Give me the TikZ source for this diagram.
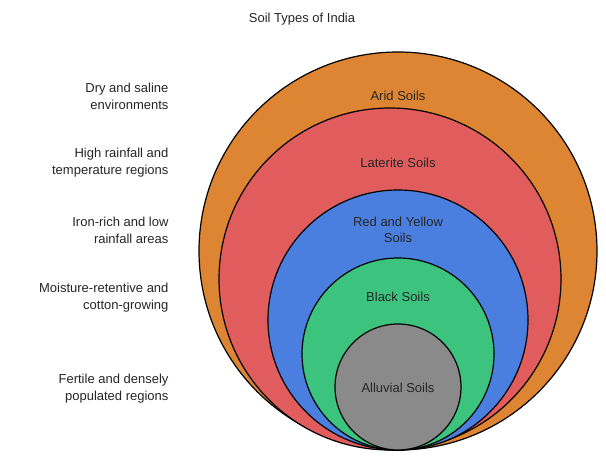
\documentclass[tikz,border=0pt]{standalone}
\usepackage{fontspec}
\setmainfont{Liberation Sans}
\definecolor{corange}{HTML}{DD8533}
\definecolor{cred}{HTML}{E15D5D}
\definecolor{cblue}{HTML}{4A7FE0}
\definecolor{cgreen}{HTML}{3CC47F}
\definecolor{cgray}{HTML}{8A8A8A}
\begin{document}
\begin{tikzpicture}[x=1pt,y=-1pt,
  ring/.style={draw=black,line width=1.2pt},
  lbl/.style={font=\fontsize{13}{16}\selectfont,align=center,text=black!85},
  side/.style={font=\fontsize{13}{17}\selectfont,align=right,anchor=east,text=black!85}]
\useasboundingbox (0,0) rectangle (606,462);
\fill[white] (0,0) rectangle (606,462);
\draw[ring,fill=corange] (398,251) circle (199);
\draw[ring,fill=cred] (390,279) circle (171);
\draw[ring,fill=cblue] (398,320) circle (130);
\draw[ring,fill=cgreen] (398,354) circle (96);
\draw[ring,fill=cgray] (398,387) circle (63);
\node[lbl] (t) at (302,19) {Soil Types of India};
\node[lbl] (a) at (398,96) {Arid Soils};
\node[lbl] (l) at (398,163) {Laterite Soils};
\node[lbl] (r) at (398,230) {Red and Yellow\\Soils};
\node[lbl] (b) at (398,297) {Black Soils};
\node[lbl] (al) at (398,388) {Alluvial Soils};
\node[side] (s1) at (172,96) {Dry and saline\\environments};
\node[side] (s2) at (172,163) {High rainfall and\\temperature regions};
\node[side] (s3) at (172,230) {Iron-rich and low\\rainfall areas};
\node[side] (s4) at (172,298) {Moisture-retentive and\\cotton-growing};
\node[side] (s5) at (172,389) {Fertile and densely\\populated regions};
\end{tikzpicture}
\end{document}
